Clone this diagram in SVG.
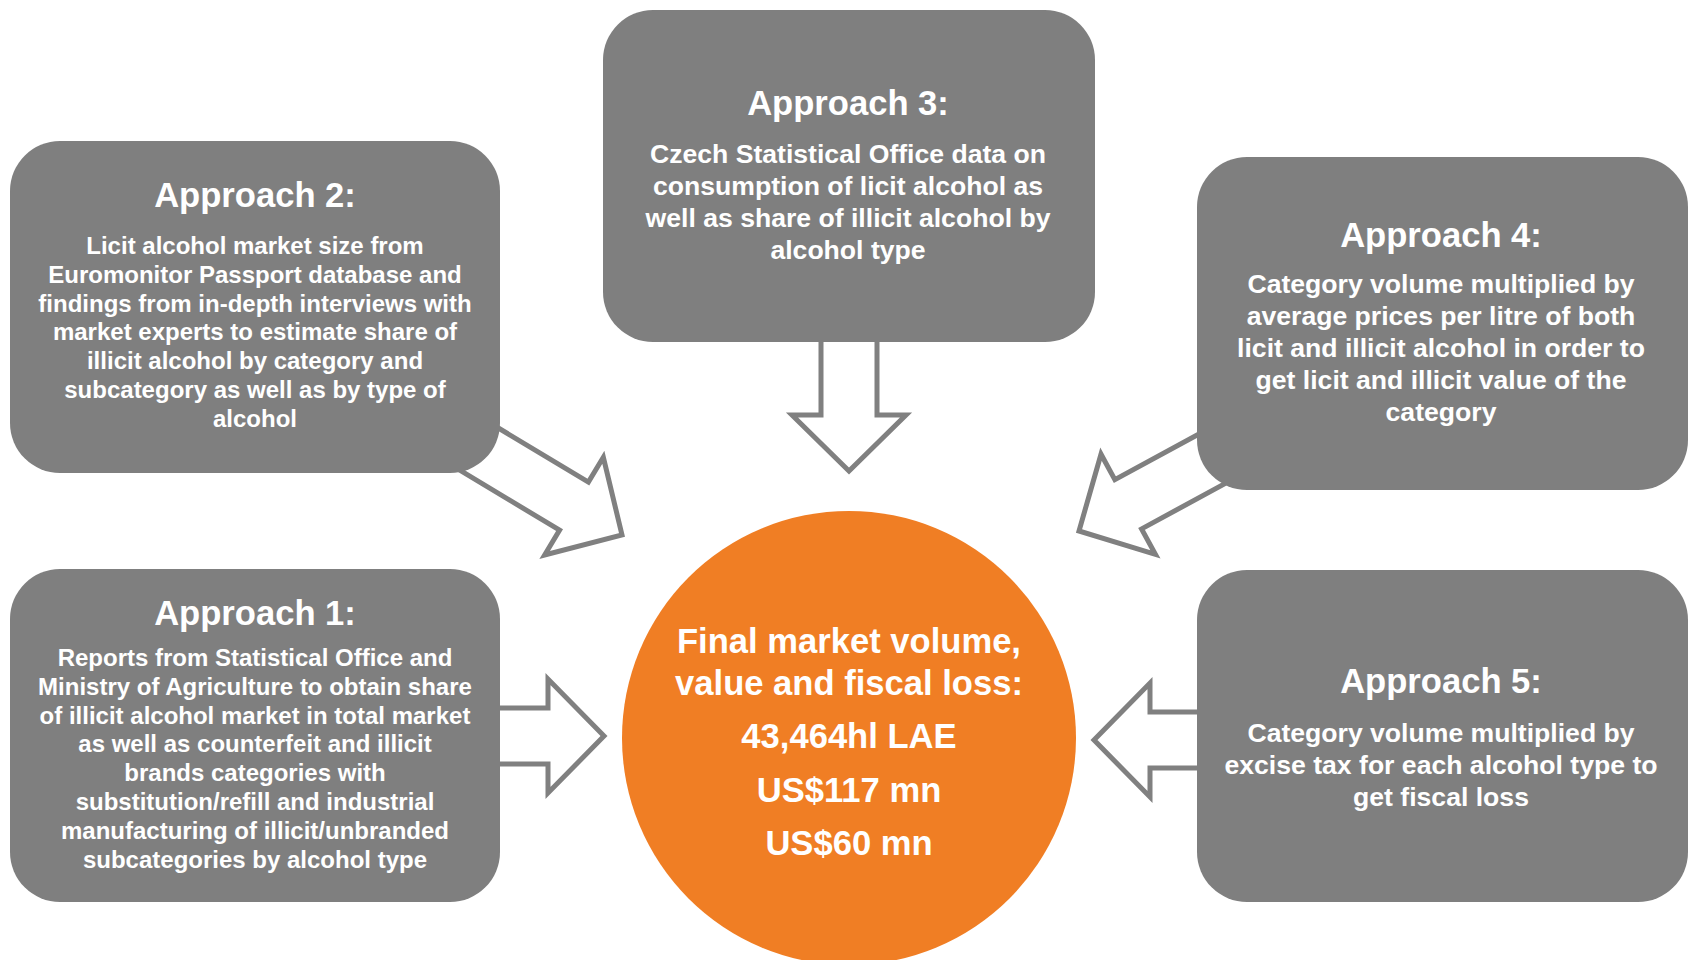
<svg xmlns="http://www.w3.org/2000/svg" width="1688" height="960" viewBox="0 0 1688 960">
  <defs>
    <style>
      .box { fill: #7F7F7F; }
      .hub { fill: #F07E24; }
      .arrow { fill: #FFFFFF; stroke: #808080; stroke-width: 5; stroke-linejoin: miter; }
      text { font-family: "Liberation Sans", Arial, sans-serif; font-weight: bold; fill: #FFFFFF; text-anchor: middle; }
      .title { font-size: 34.6px; }
      .body-s { font-size: 24px; }
      .body-l { font-size: 26.6px; }
      .hub-text { font-size: 34.6px; }
    </style>
    <!-- block arrow pointing along +x, tip at origin -->
    <path id="blockArrow" d="M -200,-28 L -56,-28 L -56,-57 L 0,0 L -56,57 L -56,28 L -200,28 Z"/>
  </defs>

  <rect width="1688" height="960" fill="#FFFFFF"/>

  <!-- connectors drawn first so the boxes cover their tails -->
  <g id="connectors">
    <use href="#blockArrow" class="arrow" transform="translate(622,535) rotate(31)"/>
    <use href="#blockArrow" class="arrow" transform="translate(849,471) rotate(90)"/>
    <use href="#blockArrow" class="arrow" transform="translate(1079,531) rotate(151.5)"/>
    <use href="#blockArrow" class="arrow" transform="translate(604,736) rotate(0)"/>
    <use href="#blockArrow" class="arrow" transform="translate(1094,740) rotate(180)"/>
  </g>

  <g id="approach2">
    <rect class="box" x="10" y="141" width="490" height="332" rx="50" ry="50"/>
    <text class="title" x="255" y="207">Approach 2:</text>
    <text class="body-s" x="255" y="254">Licit alcohol market size from</text>
    <text class="body-s" x="255" y="282.8">Euromonitor Passport database and</text>
    <text class="body-s" x="255" y="311.6">findings from in-depth interviews with</text>
    <text class="body-s" x="255" y="340.4">market experts to estimate share of</text>
    <text class="body-s" x="255" y="369.2">illicit alcohol by category and</text>
    <text class="body-s" x="255" y="398">subcategory as well as by type of</text>
    <text class="body-s" x="255" y="426.8">alcohol</text>
  </g>

  <g id="approach3">
    <rect class="box" x="603" y="10" width="492" height="332" rx="50" ry="50"/>
    <text class="title" x="848" y="115">Approach 3:</text>
    <text class="body-l" x="848" y="163">Czech Statistical Office data on</text>
    <text class="body-l" x="848" y="195">consumption of licit alcohol as</text>
    <text class="body-l" x="848" y="227">well as share of illicit alcohol by</text>
    <text class="body-l" x="848" y="259">alcohol type</text>
  </g>

  <g id="approach4">
    <rect class="box" x="1197" y="157" width="491" height="333" rx="50" ry="50"/>
    <text class="title" x="1441" y="247">Approach 4:</text>
    <text class="body-l" x="1441" y="293">Category volume multiplied by</text>
    <text class="body-l" x="1441" y="325">average prices per litre of both</text>
    <text class="body-l" x="1441" y="357">licit and illicit alcohol in order to</text>
    <text class="body-l" x="1441" y="389">get licit and illicit value of the</text>
    <text class="body-l" x="1441" y="421">category</text>
  </g>

  <g id="approach1">
    <rect class="box" x="10" y="569" width="490" height="333" rx="50" ry="50"/>
    <text class="title" x="255" y="625">Approach 1:</text>
    <text class="body-s" x="255" y="666">Reports from Statistical Office and</text>
    <text class="body-s" x="255" y="694.8">Ministry of Agriculture to obtain share</text>
    <text class="body-s" x="255" y="723.6">of illicit alcohol market in total market</text>
    <text class="body-s" x="255" y="752.4">as well as counterfeit and illicit</text>
    <text class="body-s" x="255" y="781.2">brands categories with</text>
    <text class="body-s" x="255" y="810">substitution/refill and industrial</text>
    <text class="body-s" x="255" y="838.8">manufacturing of illicit/unbranded</text>
    <text class="body-s" x="255" y="867.6">subcategories by alcohol type</text>
  </g>

  <g id="approach5">
    <rect class="box" x="1197" y="570" width="491" height="332" rx="50" ry="50"/>
    <text class="title" x="1441" y="693">Approach 5:</text>
    <text class="body-l" x="1441" y="742">Category volume multiplied by</text>
    <text class="body-l" x="1441" y="774">excise tax for each alcohol type to</text>
    <text class="body-l" x="1441" y="806">get fiscal loss</text>
  </g>

  <g id="result">
    <circle class="hub" cx="849" cy="738" r="227"/>
    <text class="hub-text" x="849" y="653">Final market volume,</text>
    <text class="hub-text" x="849" y="695">value and fiscal loss:</text>
    <text class="hub-text" x="849" y="748">43,464hl LAE</text>
    <text class="hub-text" x="849" y="802">US$117 mn</text>
    <text class="hub-text" x="849" y="855">US$60 mn</text>
  </g>
</svg>
